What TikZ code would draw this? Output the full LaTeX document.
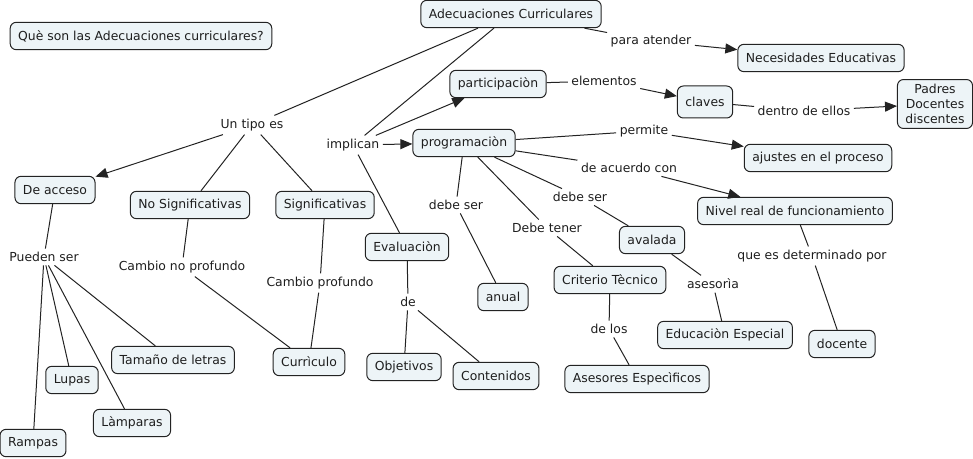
\documentclass[tikz,border=0pt]{standalone}
\usepackage{fontspec}
\setmainfont{DejaVu Sans}
\usetikzlibrary{arrows.meta}
\definecolor{cfill}{RGB}{237,244,247}
\definecolor{cline}{RGB}{35,35,35}
\definecolor{ctext}{RGB}{30,30,30}
\begin{document}
\begin{tikzpicture}[x=0.75pt,y=-0.75pt,
  concept/.style={draw=cline, fill=cfill, rounded corners=4.5pt, inner xsep=6pt, inner ysep=0pt,
    minimum height=20.5pt, font=\fontsize{9.3}{11.25}\selectfont, text=ctext, line width=0.75pt},
  link/.style={inner sep=2.5pt, font=\fontsize{9.3}{11.25}\selectfont, text=ctext},
  con/.style={draw=cline, line width=0.75pt},
  arr/.style={con, -{Triangle[length=9pt,width=7.5pt]}}]
\useasboundingbox (0,0) rectangle (973,459);
% concepts
\node[concept] (q)   at (141,36)  {Què son las Adecuaciones curriculares?};
\node[concept] (adc) at (511,14)  {Adecuaciones Curriculares};
\node[concept] (nec) at (821,58)  {Necesidades Educativas};
\node[concept] (par) at (498,84)  {participaciòn};
\node[concept, minimum height=24pt] (cla) at (705,102) {claves};
\node[concept, align=center, inner ysep=3.5pt] (pad) at (935,104) {Padres\\Docentes\\discentes};
\node[concept] (pro) at (464,143) {programaciòn};
\node[concept] (aju) at (818,158) {ajustes en el proceso};
\node[concept] (niv) at (795,211) {Nivel real de funcionamiento};
\node[concept] (dea) at (55,190)  {De acceso};
\node[concept] (nos) at (190,205) {No Significativas};
\node[concept] (sig) at (325,205) {Significativas};
\node[concept] (eva) at (407,247) {Evaluaciòn};
\node[concept] (ava) at (652,240) {avalada};
\node[concept] (anu) at (503,297) {anual};
\node[concept] (cri) at (610,280) {Criterio Tècnico};
\node[concept] (edu) at (725,335) {Educaciòn Especial};
\node[concept] (doc) at (842,344) {docente};
\node[concept] (ase) at (637,379) {Asesores Especìficos};
\node[concept] (cnt) at (496,376) {Contenidos};
\node[concept] (obj) at (404,367) {Objetivos};
\node[concept] (cur) at (309,362) {Currìculo};
\node[concept] (tam) at (173,360) {Tamaño de letras};
\node[concept] (lup) at (72,380)  {Lupas};
\node[concept] (lam) at (132,423) {Làmparas};
\node[concept] (ram) at (33,443)  {Rampas};
% linking phrases
\node[link] (ute) at (252,125) {Un tipo es};
\node[link] (imp) at (353,145) {implican};
\node[link] (pat) at (651,41)  {para atender};
\node[link] (ele) at (604,81)  {elementos};
\node[link] (den) at (804,111) {dentro de ellos};
\node[link] (per) at (644,131) {permite};
\node[link] (dac) at (629,168) {de acuerdo con};
\node[link] (ds1) at (456,205) {debe ser};
\node[link] (dt)  at (547,228) {Debe tener};
\node[link] (ds2) at (580,197) {debe ser};
\node[link] (qed) at (812,256) {que es determinado por};
\node[link] (asr) at (713,284) {asesorìa};
\node[link] (dlo) at (609,329) {de los};
\node[link] (de)  at (408,302) {de};
\node[link] (pus) at (44,257)  {Pueden ser};
\node[link] (cnp) at (182,267) {Cambio no profundo};
\node[link] (cpr) at (320,283) {Cambio profundo};
% connectors
\draw[con] (adc) -- (ute);
\draw[arr] (ute) -- (dea);
\draw[con] (ute) -- (nos);
\draw[con] (ute) -- (sig);
\draw[con] (adc) -- (imp);
\draw[arr] (imp) -- (par);
\draw[arr] (imp) -- (pro);
\draw[con] (imp) -- (eva);
\draw[con] (adc) -- (pat);
\draw[arr] (pat) -- (nec);
\draw[con] (par) -- (ele);
\draw[arr] (ele) -- (cla);
\draw[con] (cla) -- (den);
\draw[arr] (den) -- (pad);
\draw[con] (pro) -- (per);
\draw[arr] (per) -- (aju);
\draw[con] (pro) -- (dac);
\draw[arr] (dac) -- (niv);
\draw[con] (pro) -- (ds1);
\draw[con] (ds1) -- (anu);
\draw[con] (pro) -- (dt);
\draw[con] (dt) -- (cri);
\draw[con] (pro) -- (ds2);
\draw[con] (ds2) -- (ava);
\draw[con] (ava) -- (asr);
\draw[con] (asr) -- (edu);
\draw[con] (cri) -- (dlo);
\draw[con] (dlo) -- (ase);
\draw[con] (niv) -- (qed);
\draw[con] (qed) -- (doc);
\draw[con] (eva) -- (de);
\draw[con] (de) -- (obj);
\draw[con] (de) -- (cnt);
\draw[con] (dea) -- (pus);
\draw[con] (pus) -- (tam);
\draw[con] (pus) -- (lup);
\draw[con] (pus) -- (lam);
\draw[con] (pus) -- (ram);
\draw[con] (nos) -- (cnp);
\draw[con] (cnp) -- (cur);
\draw[con] (sig) -- (cpr);
\draw[con] (cpr) -- (cur);
\end{tikzpicture}
\end{document}
